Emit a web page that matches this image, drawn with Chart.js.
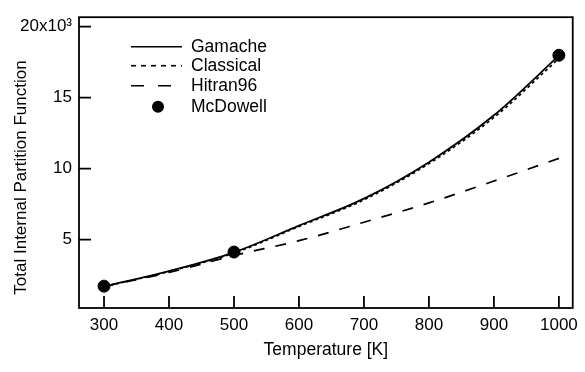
<!DOCTYPE html>
<html>
<head>
<meta charset="utf-8">
<script src="https://cdn.jsdelivr.net/npm/chart.js@4/dist/chart.umd.min.js"></script>
<style>
  html, body { margin: 0; padding: 0; background: #fff; }
  #wrap { width: 585px; height: 372px; }
</style>
</head>
<body>
<div id="wrap"><canvas id="chart" width="585" height="372"></canvas></div>
<script>
// temperatures in K, partition function values in units of 10^3
const temps = [300, 400, 500, 600, 700, 800, 900, 1000];
const gamache = [1.70, 2.78, 4.10, 5.98, 7.88, 10.45, 13.75, 17.95];
const classical = [1.68, 2.75, 4.05, 5.92, 7.80, 10.35, 13.60, 17.75];
const hitran96 = [1.70, 2.68, 3.88, 4.92, 6.22, 7.58, 9.12, 10.72];
const mcdowellTemps = [300, 500, 1000];
const mcdowell = [1.72, 4.12, 17.98];

const xTicks = [300, 400, 500, 600, 700, 800, 900, 1000];
const yTicks = [5000, 10000, 15000, 20000];
const yTitle = "Total Internal Partition Function";

const font = "'Liberation Sans', Arial, sans-serif";
Chart.defaults.font.family = font;
Chart.defaults.font.size = 17;
Chart.defaults.color = "#000";

function pts(xs, ys) {
  return xs.map((x, i) => ({ x: x, y: ys[i] * 1000 }));
}

// box, inward ticks, y title and the legend inside the plot
const frame = {
  id: "frame",
  afterDatasetsDraw(chart) {
    const ctx = chart.ctx;
    const a = chart.chartArea;
    const xs = chart.scales.x, ys = chart.scales.y;
    ctx.save();
    ctx.strokeStyle = "#000";
    ctx.lineWidth = 1.8;
    ctx.strokeRect(a.left, a.top, a.right - a.left, a.bottom - a.top);
    ctx.beginPath();
    xTicks.forEach(v => {
      const px = xs.getPixelForValue(v);
      ctx.moveTo(px, a.bottom);
      ctx.lineTo(px, a.bottom - 12);
    });
    yTicks.forEach(v => {
      const py = ys.getPixelForValue(v);
      ctx.moveTo(a.left, py);
      ctx.lineTo(a.left + 12, py);
    });
    ctx.stroke();

    // y axis title, sits a bit below the middle of the axis
    ctx.save();
    ctx.translate(21, 177.5);
    ctx.rotate(-Math.PI / 2);
    ctx.fillStyle = "#000";
    ctx.font = "17px " + font;
    ctx.textAlign = "center";
    ctx.textBaseline = "middle";
    ctx.fillText(yTitle, 0, 0);
    ctx.restore();

    const rows = [46.7, 65.7, 85.7, 106.7];
    chart.data.datasets.forEach((ds, i) => {
      const y = rows[i];
      if (ds.showLine === false) {
        ctx.beginPath();
        ctx.fillStyle = "#000";
        ctx.arc(158, y, 6, 0, Math.PI * 2);
        ctx.fill();
      } else {
        ctx.beginPath();
        ctx.lineWidth = 1.6;
        ctx.setLineDash(ds.legendDash || []);
        ctx.moveTo(131, y);
        ctx.lineTo(182, y);
        ctx.stroke();
        ctx.setLineDash([]);
      }
      ctx.fillStyle = "#000";
      ctx.font = "17.5px " + font;
      ctx.textBaseline = "middle";
      ctx.textAlign = "left";
      ctx.fillText(ds.label, 191, y);
    });
    ctx.restore();
  }
};

const ctx = document.getElementById("chart").getContext("2d");

new Chart(ctx, {
  type: "scatter",
  data: {
    datasets: [
      {
        label: "Gamache",
        data: pts(temps, gamache),
        showLine: true,
        borderColor: "#000",
        borderWidth: 1.8,
        pointRadius: 0,
        cubicInterpolationMode: "monotone"
      },
      {
        label: "Classical",
        data: pts(temps, classical),
        showLine: true,
        borderColor: "#000",
        borderWidth: 1.7,
        borderDash: [3, 3],
        legendDash: [5, 5],
        pointRadius: 0,
        cubicInterpolationMode: "monotone"
      },
      {
        label: "Hitran96",
        data: pts(temps, hitran96),
        showLine: true,
        borderColor: "#000",
        borderWidth: 1.7,
        borderDash: [11, 11],
        legendDash: [13, 14],
        pointRadius: 0,
        cubicInterpolationMode: "monotone"
      },
      {
        label: "McDowell",
        data: pts(mcdowellTemps, mcdowell),
        showLine: false,
        backgroundColor: "#000",
        borderColor: "#000",
        pointRadius: 6
      }
    ]
  },
  options: {
    responsive: false,
    animation: false,
    layout: { padding: { top: 16, right: 7, left: 0, bottom: 0 } },
    plugins: {
      legend: { display: false },
      tooltip: { enabled: false }
    },
    scales: {
      x: {
        type: "linear",
        min: 261.5,
        max: 1021.3,
        afterBuildTicks: s => { s.ticks = xTicks.map(v => ({ value: v })); },
        afterFit: s => { s.height = 64; },
        grid: { display: false, drawTicks: false },
        border: { display: false },
        ticks: { padding: 7, maxRotation: 0, callback: v => String(v) },
        title: {
          display: true,
          text: "Temperature [K]",
          font: { size: 17.5 },
          padding: { bottom: 11 }
        }
      },
      y: {
        type: "linear",
        min: 180,
        max: 20660,
        afterBuildTicks: s => { s.ticks = yTicks.map(v => ({ value: v })); },
        afterFit: s => { s.width = 79; },
        grid: { display: false, drawTicks: false },
        border: { display: false },
        ticks: {
          padding: 7,
          callback: v => v === 20000 ? "20x10\u00b3" : String(v / 1000)
        },
        title: { display: false }
      }
    }
  },
  plugins: [frame]
});
</script>
</body>
</html>
